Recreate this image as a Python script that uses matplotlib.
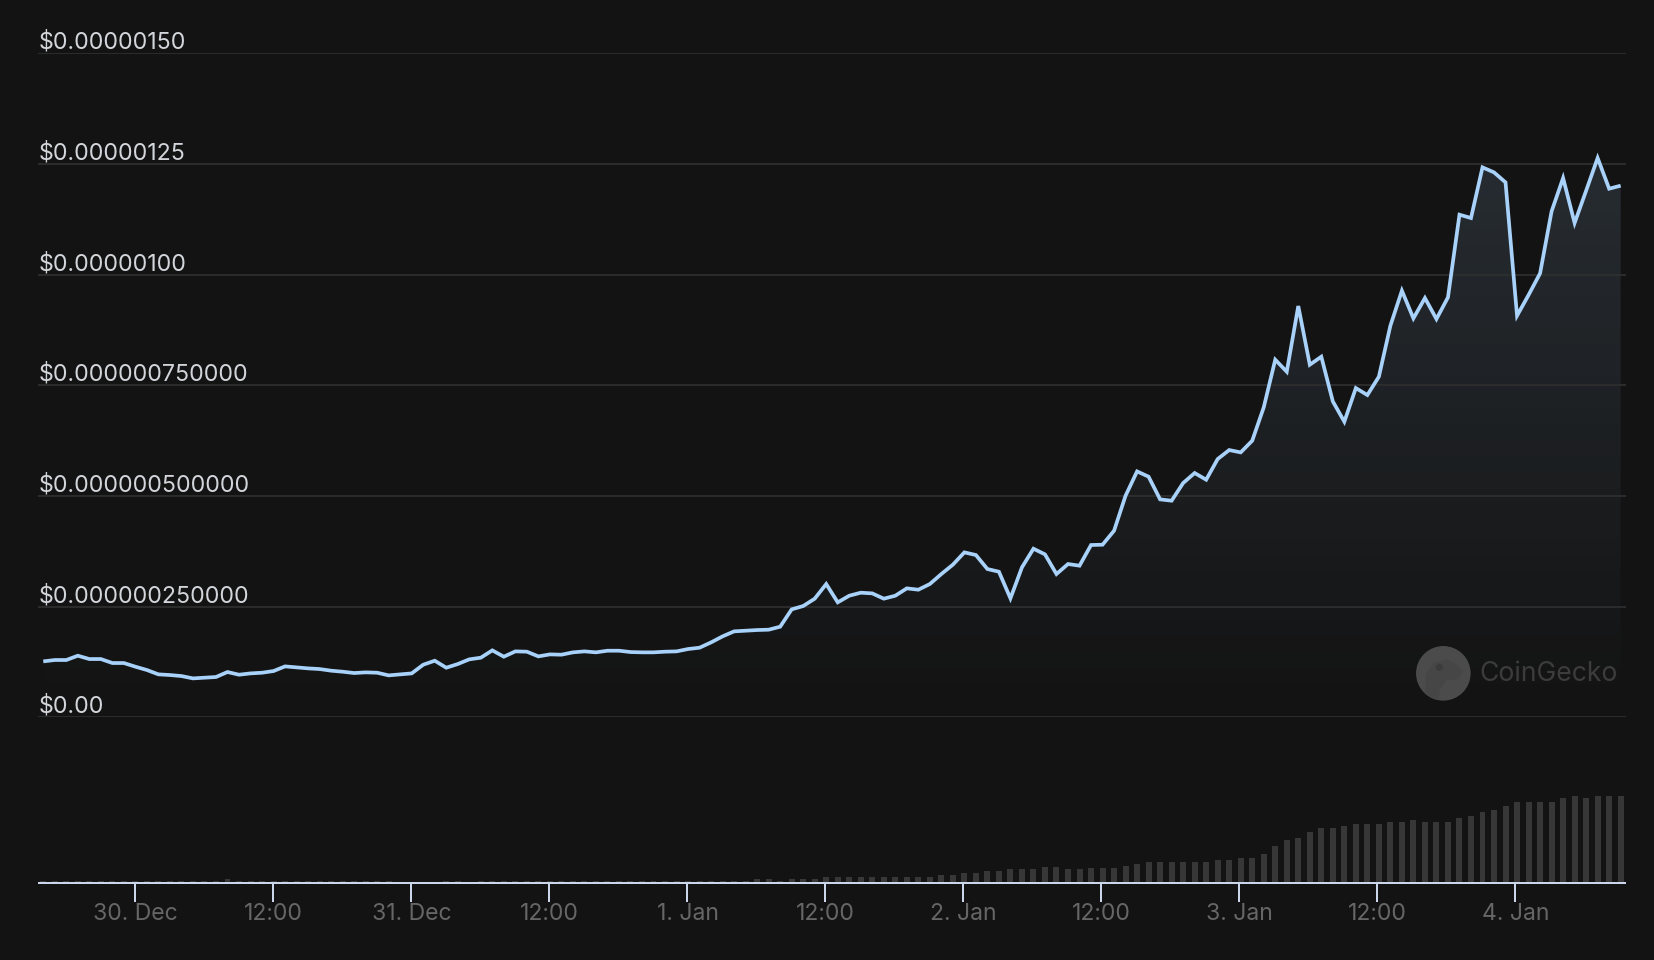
import numpy as np
import matplotlib
matplotlib.use("Agg")
import matplotlib.pyplot as plt
from matplotlib.colors import LinearSegmentedColormap
from matplotlib.patches import Circle, Polygon
from matplotlib.transforms import ScaledTranslation, IdentityTransform

plt.rcParams['font.family'] = ['Inter', 'DejaVu Sans']

# price in millionths of a dollar, hourly
price_micro = [
 0.1265,0.1296,0.1296,0.1393,0.1318,0.1318,0.1228,0.1228,0.1145,0.1070,
 0.0972,0.0957,0.0934,0.0881,0.0897,0.0912,0.1025,0.0964,0.0994,0.1009,
 0.1047,0.1152,0.1130,0.1107,0.1092,0.1055,0.1032,0.1002,0.1017,0.1009,
 0.0949,0.0972,0.0994,0.1190,0.1280,0.1122,0.1205,0.1311,0.1348,0.1514,
 0.1371,0.1491,0.1484,0.1378,0.1423,0.1416,0.1469,0.1491,0.1469,0.1506,
 0.1506,0.1476,0.1469,0.1469,0.1484,0.1491,0.1544,0.1574,0.1694,0.1830,
 0.1943,0.1958,0.1973,0.1981,0.2048,0.2440,0.2515,0.2681,0.3012,0.2598,
 0.2748,0.2816,0.2801,0.2681,0.2748,0.2914,0.2884,0.3012,0.3238,0.3449,
 0.3727,0.3667,0.3351,0.3290,0.2688,0.3388,0.3810,0.3682,0.3238,0.3464,
 0.3426,0.3893,0.3900,0.4216,0.5007,0.5556,0.5436,0.4924,0.4894,0.5293,
 0.5519,0.5368,0.5835,0.6038,0.5985,0.6249,0.7002,0.8078,0.7807,0.9290,
 0.7965,0.8146,0.7137,0.6678,0.7438,0.7280,0.7694,0.8846,0.9637,0.9012,
 0.9471,0.8997,0.9486,1.1353,1.1278,1.2422,1.2309,1.2083,0.9072,0.9539,
 1.0028,1.1428,1.2181,1.1165,1.1895,1.2633,1.1940,1.2008,
]

# volume, relative units
early_volume = [1.5]*16 + [3.5] + [1.5]*14 + [0,0,0,0] + [1.5,1.5] + [0] + [1.5]*19
mid_volume = [2,2,2,2,2,4,4,2,4,4,4,6,6,6,6,6,6,6,6,6,6,8,8,10,10,12,12,14,14,14,16,16,14,14]
late_volume = [14.7,14.7,14.7,16.7,18.7,20.7,20.7,20.7,20.7,20.7,20.7,22.7,22.7,24.7,24.7,
               28.7,36.7,42.7,44.7,50.7,54.7,54.7,56.7,58.7,58.7,58.7,60.7,60.7,62.7,60.7,60.7,
               60.7,64.7,66.7,70.7,72.7,76.7,80.7,80.7,80.7,80.7,84.7,86.7,84.7,86.7,86.7,86.7]
volume = early_volume + mid_volume + late_volume

y_ticks = [0, 0.25, 0.5, 0.75, 1.0, 1.25, 1.5]
y_labels = ["$0.00", "$0.000000250000", "$0.000000500000", "$0.000000750000",
            "$0.00000100", "$0.00000125", "$0.00000150"]
x_ticks = [0, 12, 24, 36, 48, 60, 72, 84, 96, 108, 120]
x_labels = ["30. Dec", "12:00", "31. Dec", "12:00", "1. Jan", "12:00",
            "2. Jan", "12:00", "3. Jan", "12:00", "4. Jan"]

W, H = 1654, 960
BG = "#131313"
LINE = "#a9d2fb"
px = 72 / 100

fig = plt.figure(figsize=(W / 100, H / 100), dpi=100, facecolor=BG)

def axes_px(left, top, right, bottom):
    return fig.add_axes([left / W, 1 - bottom / H, (right - left) / W, (bottom - top) / H])

ax = axes_px(38, 53.2, 1626, 717.4)
ax.set_facecolor("none")
hours = -7.95 + np.arange(len(price_micro)) * 1.0012
xlim = ((38 - 134.7) / 11.5, (1626 - 134.7) / 11.5)

# gradient fill
cmap = LinearSegmentedColormap.from_list("f", [(169/255, 210/255, 251/255, 0.135),
                                               (169/255, 210/255, 251/255, 0.0)])
grad = np.linspace(0, 1, 256).reshape(-1, 1)
top_val = max(price_micro)
im = ax.imshow(grad, aspect="auto", cmap=cmap, origin="upper", vmin=0, vmax=1,
               extent=[hours[0], hours[-1], 0, top_val], zorder=1)
poly = ax.fill_between(hours, price_micro, 0, facecolor="none", edgecolor="none")
clip = Polygon(poly.get_paths()[0].vertices, closed=True, transform=ax.transData)
im.set_clip_path(clip)

ax.plot(hours, price_micro, color=LINE, lw=3.7 * px, zorder=3,
        solid_joinstyle="miter", solid_capstyle="butt", clip_on=False)

ax.set_xlim(*xlim)
ax.set_ylim(0, 1.5)
ax.set_xticks([])
ax.set_yticks(y_ticks)
ax.set_yticklabels(y_labels, ha="left", va="baseline", color="#d2d5da", fontsize=23.2 * px)
ax.tick_params(axis="y", length=0, pad=-0.8 * px)
off = ScaledTranslation(0, 4.6 / 100, fig.dpi_scale_trans)
for lab in ax.get_yticklabels():
    lab.set_transform(lab.get_transform() + off)
ax.set_axisbelow(False)
ax.grid(axis="y", color="#2e2e2e", lw=1.8 * px, zorder=2)
for s in ax.spines.values():
    s.set_visible(False)

# volume panel
vax = axes_px(38, 782.7, 1626, 882.7)
vax.set_facecolor("none")
vax.bar(hours, volume, width=0.52, color="#373737", linewidth=0, zorder=1)
vax.set_xlim(*xlim)
vax.set_ylim(0, 100)
vax.set_yticks([])
vax.set_xticks(x_ticks)
vax.set_xticklabels(x_labels, color="#666666", fontsize=23 * px)
vax.tick_params(axis="x", length=19 * px, width=2 * px, color="#ccd6eb", pad=1.3 * px)
for name, s in vax.spines.items():
    s.set_visible(name == "bottom")
vax.spines["bottom"].set_color("#ccd6eb")
vax.spines["bottom"].set_linewidth(2 * px)
vax.spines["bottom"].set_capstyle("butt")
shift = ScaledTranslation(1 / 100, 0, fig.dpi_scale_trans)
for lab in vax.get_xticklabels():
    lab.set_transform(lab.get_transform() + shift)

# watermark
T = IdentityTransform()
def wx(z): return 1350 + z / 3
def wy(z): return H - (620 + z / 3)
disc = Circle((wx(280), wy(160)), 27.3, transform=T, facecolor="#4b4b4b", edgecolor="none")
fig.add_artist(disc)
gecko = [(225, 236), (228, 165), (250, 130), (290, 118), (315, 130), (340, 155),
         (325, 178), (290, 180), (270, 210), (265, 240)]
body = Polygon([(wx(a), wy(b)) for a, b in gecko], closed=True, transform=T,
               facecolor="#464646", edgecolor="none")
fig.add_artist(body)
body.set_clip_path(disc)
fig.add_artist(Circle((wx(268), wy(142)), 3.6, transform=T, facecolor="#3c3c3c", edgecolor="none"))
fig.text(wx(388) / W, wy(161) / H, "CoinGecko", color="#3c3c3c", fontsize=26.5 * px,
         ha="left", va="center")

fig.savefig("out.png", dpi=100, facecolor=BG)
